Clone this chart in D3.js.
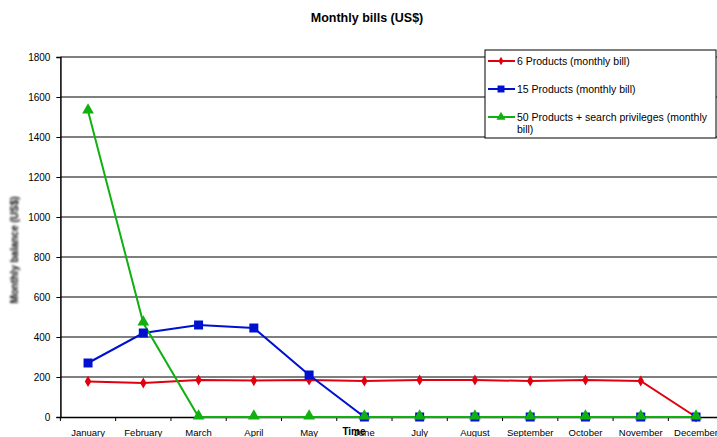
<!DOCTYPE html>
<html>
<head>
<meta charset="utf-8">
<script src="https://cdn.jsdelivr.net/npm/d3@7"></script>
<style>
  body { margin: 0; background: #fff; }
  svg { font-family: "Liberation Sans", Arial, sans-serif; }
</style>
</head>
<body>
<svg id="chart" width="717" height="437"></svg>
<script>
// categories and series
const months = ["January", "February", "March", "April", "May", "June",
  "July", "August", "September", "October", "November", "December"];
const products6 = [178, 170, 185, 182, 185, 180, 185, 185, 180, 185, 180, 0];
const products15 = [270, 420, 460, 445, 210, 0, 0, 0, 0, 0, 0, 0];
const products50 = [1530, 470, 0, 0, 0, 0, 0, 0, 0, 0, 0, 0];
const yTicks = [0, 200, 400, 600, 800, 1000, 1200, 1400, 1600, 1800];

const series = [
  { name: "6 Products (monthly bill)", values: products6, color: "#e0000f", symbol: d3.symbolDiamond, size: 36 },
  { name: "15 Products  (monthly bill)", values: products15, color: "#0010d0", symbol: d3.symbolSquare, size: 81 },
  { name: "50 Products + search privileges  (monthly bill)", values: products50, color: "#10b010", symbol: d3.symbolTriangle, size: 60 }
];

const svg = d3.select("#chart");
const plotLeft = 60.4, plotTop = 57, plotBottom = 417;
const bandW = 55.27;

const x = d3.scaleBand().domain(months).range([plotLeft, plotLeft + bandW * months.length]);
const y = d3.scaleLinear().domain([0, 1800]).range([plotBottom, plotTop]);

// title
svg.append("text")
  .attr("x", 367).attr("y", 22)
  .attr("text-anchor", "middle")
  .style("font-size", "12.5px").style("font-weight", "bold")
  .text("Monthly bills (US$)");

// gridlines
svg.append("g").selectAll("line")
  .data(yTicks.slice(1))
  .join("line")
  .attr("x1", plotLeft).attr("x2", 717)
  .attr("y1", d => y(d)).attr("y2", d => y(d))
  .attr("stroke", "#555").attr("stroke-width", 1.5);

// y axis
const yAxis = svg.append("g")
  .attr("transform", `translate(${plotLeft},0)`)
  .call(d3.axisLeft(y).tickValues(yTicks).tickFormat(d3.format("d")).tickSize(4).tickPadding(6));
yAxis.select(".domain").attr("stroke", "#000").attr("stroke-width", 1.5);
yAxis.selectAll(".tick line").attr("stroke", "#000");
yAxis.selectAll("text").style("font-size", "10px").attr("fill", "#000")
  .style("font-family", "Liberation Sans, Arial, sans-serif");

// x axis
const xAxis = svg.append("g")
  .attr("transform", `translate(0,${plotBottom})`)
  .call(d3.axisBottom(x).tickSize(0).tickPadding(12));
xAxis.select(".domain").attr("stroke", "#000").attr("stroke-width", 1.5);
xAxis.selectAll("text").style("font-size", "9.5px").attr("fill", "#000")
  .style("font-family", "Liberation Sans, Arial, sans-serif");
// boundary ticks between categories
xAxis.append("g").selectAll("line")
  .data(d3.range(months.length + 1))
  .join("line")
  .attr("x1", i => plotLeft + i * bandW).attr("x2", i => plotLeft + i * bandW)
  .attr("y1", 0).attr("y2", 4)
  .attr("stroke", "#000");

// axis titles
svg.append("defs").append("filter").attr("id", "blur")
  .append("feGaussianBlur").attr("stdDeviation", 0.8);
svg.append("text")
  .attr("transform", "translate(18,250) rotate(-90)")
  .attr("text-anchor", "middle")
  .attr("filter", "url(#blur)")
  .style("font-size", "10px").style("font-weight", "bold")
  .text("Monthly balance (US$)");
svg.append("text")
  .attr("x", 354).attr("y", 435)
  .attr("text-anchor", "middle")
  .style("font-size", "10px").style("font-weight", "bold")
  .text("Time");

// lines and markers
const cx = m => x(m) + x.bandwidth() / 2;
const line = d3.line().x((d, i) => cx(months[i])).y(d => y(d));

series.forEach(s => {
  svg.append("path")
    .datum(s.values)
    .attr("fill", "none")
    .attr("stroke", s.color)
    .attr("stroke-width", 2)
    .attr("d", line);
});
series.forEach(s => {
  svg.append("g").selectAll("path")
    .data(s.values)
    .join("path")
    .attr("transform", (d, i) => `translate(${cx(months[i])},${y(d) - (s.symbol === d3.symbolTriangle ? 1 : 0)})`)
    .attr("d", d3.symbol(s.symbol, s.size))
    .attr("fill", s.color);
});

// legend
const lg = svg.append("g").attr("transform", "translate(485,50)");
lg.append("rect")
  .attr("width", 231).attr("height", 88)
  .attr("fill", "#fff").attr("stroke", "#000").attr("stroke-width", 1);
const rowY = [11, 39, 67];
series.forEach((s, i) => {
  const g = lg.append("g").attr("transform", `translate(0,${rowY[i]})`);
  g.append("line").attr("x1", 3).attr("x2", 30).attr("y1", 0).attr("y2", 0)
    .attr("stroke", s.color).attr("stroke-width", 2);
  g.append("path").attr("transform", "translate(16,0)")
    .attr("d", d3.symbol(s.symbol, s.size * 0.6)).attr("fill", s.color);
  const t = g.append("text").attr("x", 32).attr("y", 3.5).style("font-size", "10.5px");
  if (i === 2) {
    t.append("tspan").text("50 Products + search privileges  (monthly");
    t.append("tspan").attr("x", 32).attr("dy", 12).text("bill)");
  } else {
    t.text(s.name);
  }
});
</script>
</body>
</html>
